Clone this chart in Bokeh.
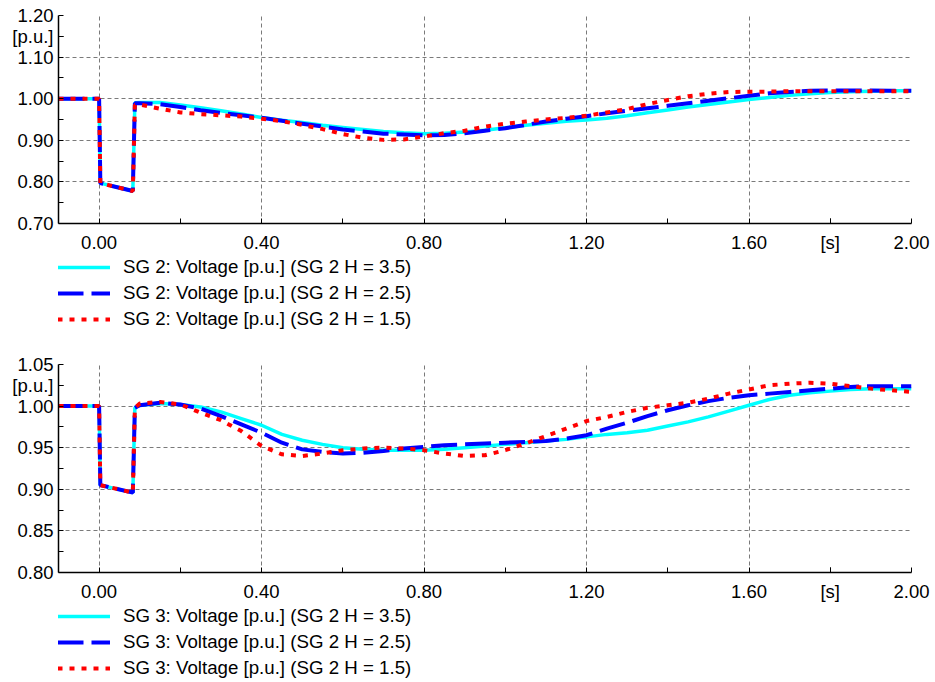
from bokeh.plotting import figure
from bokeh.models import FixedTicker, Legend, LegendItem, Range1d, ColumnDataSource
from bokeh.layouts import column
from bokeh.embed import file_html
from bokeh.resources import INLINE

# ---------------- data ----------------
TIME = [-0.10, 0.00, 0.003, 0.083, 0.088,
        0.10, 0.15, 0.20, 0.25, 0.30, 0.35, 0.40, 0.45, 0.50, 0.55,
        0.60, 0.65, 0.70, 0.75, 0.80, 0.85, 0.90, 0.95, 1.00, 1.05,
        1.10, 1.15, 1.20, 1.25, 1.30, 1.35, 1.40, 1.45, 1.50, 1.55,
        1.60, 1.65, 1.70, 1.75, 1.80, 1.85, 1.90, 1.95, 2.00]

SG2_H35 = [1.000, 1.000, 0.797, 0.778, 0.990,
           0.991, 0.991, 0.985, 0.978, 0.971, 0.963, 0.955, 0.948, 0.943, 0.936,
           0.931, 0.926, 0.921, 0.918, 0.916, 0.917, 0.920, 0.924, 0.930, 0.936,
           0.941, 0.946, 0.949, 0.953, 0.959, 0.966, 0.973, 0.980, 0.986, 0.992,
           0.998, 1.003, 1.008, 1.012, 1.015, 1.017, 1.018, 1.019, 1.019]
SG2_H25 = [1.000, 1.000, 0.797, 0.778, 0.989,
           0.989, 0.987, 0.980, 0.972, 0.966, 0.960, 0.954, 0.947, 0.940, 0.933,
           0.926, 0.921, 0.916, 0.914, 0.912, 0.913, 0.917, 0.923, 0.929, 0.937,
           0.945, 0.952, 0.958, 0.965, 0.971, 0.977, 0.983, 0.989, 0.995, 1.001,
           1.007, 1.013, 1.016, 1.019, 1.020, 1.020, 1.020, 1.019, 1.019]
SG2_H15 = [1.000, 1.000, 0.797, 0.778, 0.985,
           0.986, 0.976, 0.967, 0.963, 0.960, 0.957, 0.952, 0.946, 0.937, 0.927,
           0.915, 0.906, 0.901, 0.902, 0.909, 0.917, 0.923, 0.933, 0.940, 0.945,
           0.950, 0.954, 0.959, 0.967, 0.975, 0.987, 0.997, 1.006, 1.012, 1.016,
           1.017, 1.017, 1.018, 1.018, 1.018, 1.018, 1.018, 1.018, 1.018]

SG3_H35 = [1.000, 1.000, 0.905, 0.896, 0.998,
           1.001, 1.003, 1.002, 0.999, 0.993, 0.985, 0.977, 0.966, 0.959, 0.954,
           0.950, 0.948, 0.947, 0.947, 0.947, 0.948, 0.950, 0.952, 0.954, 0.956,
           0.958, 0.960, 0.963, 0.966, 0.968, 0.971, 0.976, 0.981, 0.987, 0.994,
           1.001, 1.008, 1.013, 1.016, 1.018, 1.020, 1.021, 1.021, 1.021]
SG3_H25 = [1.000, 1.000, 0.905, 0.896, 0.998,
           1.001, 1.004, 1.002, 0.997, 0.988, 0.978, 0.968, 0.956, 0.948, 0.945,
           0.943, 0.944, 0.946, 0.949, 0.951, 0.953, 0.954, 0.955, 0.956, 0.957,
           0.958, 0.961, 0.965, 0.973, 0.980, 0.988, 0.995, 1.001, 1.006, 1.010,
           1.013, 1.015, 1.017, 1.019, 1.021, 1.023, 1.024, 1.024, 1.024]
SG3_H15 = [1.000, 1.000, 0.905, 0.896, 0.998,
           1.003, 1.005, 1.002, 0.992, 0.983, 0.970, 0.952, 0.942, 0.940, 0.943,
           0.947, 0.949, 0.950, 0.949, 0.947, 0.943, 0.940, 0.941, 0.947, 0.955,
           0.964, 0.973, 0.982, 0.987, 0.993, 0.998, 1.001, 1.004, 1.009, 1.015,
           1.020, 1.025, 1.027, 1.028, 1.027, 1.024, 1.021, 1.019, 1.017]

TOP_LABELS = ["SG 2: Voltage [p.u.] (SG 2 H = 3.5)",
              "SG 2: Voltage [p.u.] (SG 2 H = 2.5)",
              "SG 2: Voltage [p.u.] (SG 2 H = 1.5)"]
BOT_LABELS = ["SG 3: Voltage [p.u.] (SG 2 H = 3.5)",
              "SG 3: Voltage [p.u.] (SG 2 H = 2.5)",
              "SG 3: Voltage [p.u.] (SG 2 H = 1.5)"]

X_MAJOR = [0.0, 0.4, 0.8, 1.2, 1.6, 2.0]
X_LABELS = ["0.00", "0.40", "0.80", "1.20", "1.60", "2.00"]
X_UNIT_POS = 1.8
X_UNIT = "[s]"
X_MINOR = [0.2, 0.6, 1.0, 1.4, 1.8]

TOP_Y_MAJOR = [0.7, 0.8, 0.9, 1.0, 1.1, 1.2]
TOP_Y_LABELS = ["0.70", "0.80", "0.90", "1.00", "1.10", "1.20"]
TOP_Y_MINOR = [0.75, 0.85, 0.95, 1.05, 1.15]
TOP_Y_UNIT_POS = 1.15

BOT_Y_MAJOR = [0.80, 0.85, 0.90, 0.95, 1.00, 1.05]
BOT_Y_LABELS = ["0.80", "0.85", "0.90", "0.95", "1.00", "1.05"]
BOT_Y_MINOR = [0.825, 0.875, 0.925, 0.975, 1.025]
BOT_Y_UNIT_POS = 1.025
Y_UNIT = "[p.u.]"

FONT = "Liberation Sans"
STYLES = [dict(line_color="#00FFFF", line_width=3.5, line_dash="solid"),
          dict(line_color="#0000FF", line_width=4, line_dash="26 8"),
          dict(line_color="#FF0000", line_width=4, line_dash="5 7")]

W = 932
ROW_H = 22
ROW_GAP = 4


def make_fig(sources, y_major, y_labels, y_minor, y_unit_pos, height, border_top):
    p = figure(width=W, height=height,
               x_range=Range1d(-0.1, 2.0),
               y_range=Range1d(y_major[0], y_major[-1]),
               output_backend="svg", toolbar_location=None,
               min_border_left=58, min_border_right=21,
               min_border_top=border_top, min_border_bottom=31)
    p.outline_line_color = None
    p.background_fill_color = "white"

    p.xaxis.ticker = FixedTicker(ticks=X_MAJOR + [X_UNIT_POS], minor_ticks=X_MINOR)
    xo = {x: l for x, l in zip(X_MAJOR, X_LABELS)}
    xo[X_UNIT_POS] = X_UNIT
    p.xaxis.major_label_overrides = xo
    p.yaxis.ticker = FixedTicker(ticks=y_major + [y_unit_pos], minor_ticks=y_minor)
    yo = {y: l for y, l in zip(y_major, y_labels)}
    yo[y_unit_pos] = Y_UNIT
    p.yaxis.major_label_overrides = yo
    for ax in (p.xaxis, p.yaxis):
        ax.major_tick_in = 5
        ax.major_tick_out = 0
        ax.minor_tick_in = 5
        ax.minor_tick_out = 0
        ax.axis_line_color = "black"
        ax.axis_line_width = 1.5
        ax.major_tick_line_color = "black"
        ax.minor_tick_line_color = "black"
        ax.major_label_text_font = FONT
        ax.major_label_text_font_size = "18.5px"
        ax.major_label_text_color = "black"
    p.xaxis.major_label_standoff = 8
    p.yaxis.major_label_standoff = 5

    p.xgrid.ticker = FixedTicker(ticks=X_MAJOR)
    p.ygrid.ticker = FixedTicker(ticks=y_major)
    for g in (p.xgrid, p.ygrid):
        g.grid_line_color = "#7a7a7a"
        g.grid_line_dash = "4 3"
        g.grid_line_width = 1

    for src, st in zip(sources, STYLES):
        p.line("t", "v", source=src, **st)
    return p


def make_legend_fig(sources, labels, height, top_offset):
    # strip that only holds the legend; its series lie outside its y range
    q = figure(width=W, height=height, x_range=Range1d(-0.1, 2.0),
               y_range=Range1d(100, 101), output_backend="svg",
               toolbar_location=None, x_axis_location=None, y_axis_location=None,
               min_border=0)
    q.outline_line_color = None
    q.xgrid.visible = False
    q.ygrid.visible = False
    items = []
    for src, lab, st in zip(sources, labels, STYLES):
        r = q.line("t", "v", source=src, **st)
        items.append(LegendItem(label=lab, renderers=[r]))
    leg_h = 3 * ROW_H + 2 * ROW_GAP
    leg = Legend(items=items, location=(-1, height - leg_h - top_offset),
                 orientation="vertical",
                 glyph_width=53, glyph_height=ROW_H, label_height=ROW_H,
                 label_standoff=13, spacing=ROW_GAP, padding=0, margin=0,
                 border_line_color=None, background_fill_alpha=0,
                 label_text_font=FONT, label_text_font_size="18.7px",
                 label_text_color="black")
    q.add_layout(leg, "center")
    return q


top_src = [ColumnDataSource(dict(t=TIME, v=s)) for s in (SG2_H35, SG2_H25, SG2_H15)]
bot_src = [ColumnDataSource(dict(t=TIME, v=s)) for s in (SG3_H35, SG3_H25, SG3_H15)]

p1 = make_fig(top_src, TOP_Y_MAJOR, TOP_Y_LABELS, TOP_Y_MINOR, TOP_Y_UNIT_POS, 255, 15)
l1 = make_legend_fig(top_src, TOP_LABELS, 95, 1)
p2 = make_fig(bot_src, BOT_Y_MAJOR, BOT_Y_LABELS, BOT_Y_MINOR, BOT_Y_UNIT_POS, 254, 14)
l2 = make_legend_fig(bot_src, BOT_LABELS, 78, 1)

layout = column(p1, l1, p2, l2)
open("out.html", "w").write(file_html(layout, INLINE))
